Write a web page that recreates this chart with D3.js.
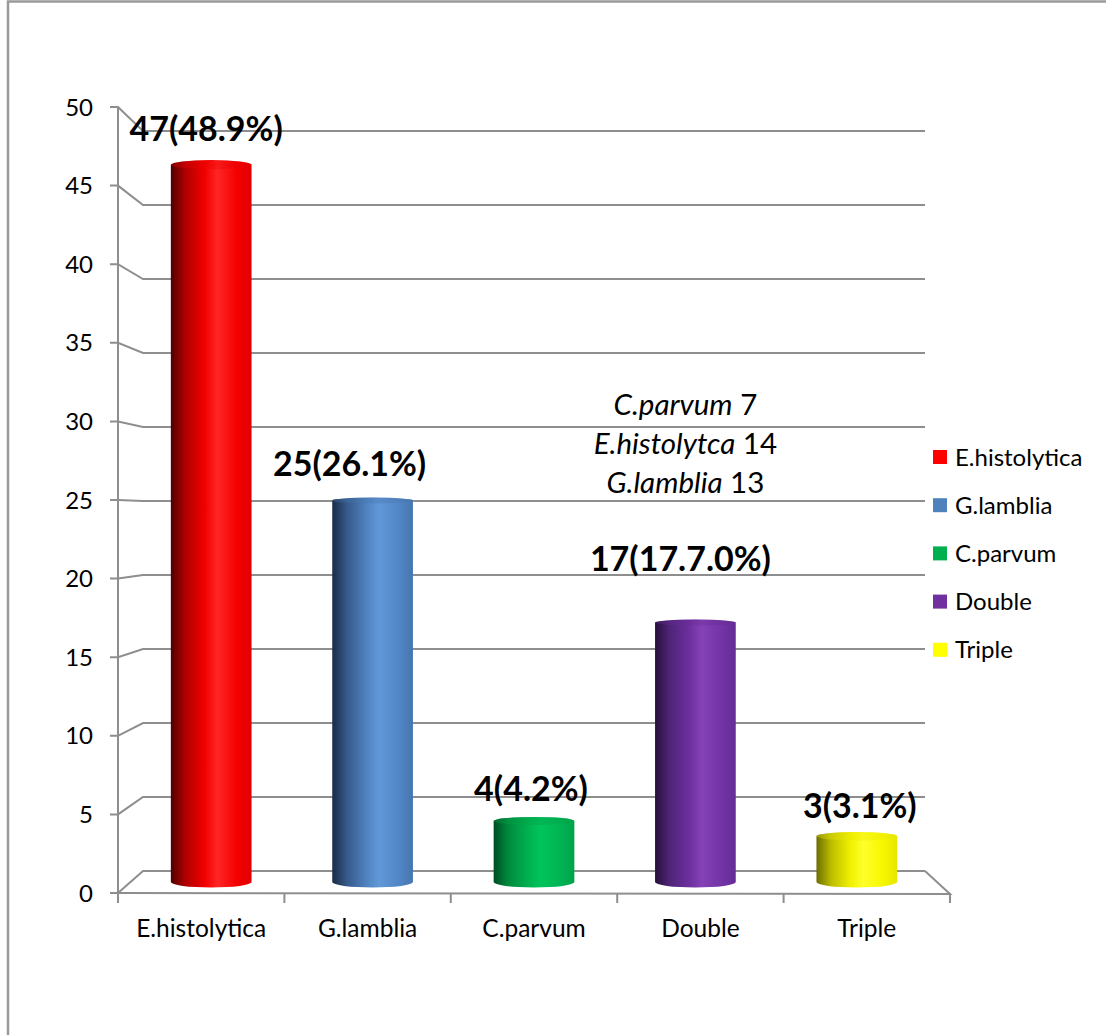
<!DOCTYPE html>
<html>
<head>
<meta charset="utf-8">
<script src="https://cdn.jsdelivr.net/npm/d3@7/dist/d3.min.js"></script>
<style>
  html, body { margin: 0; padding: 0; background: #ffffff; }
  svg { display: block; }
  text { font-family: Lato, "Open Sans", sans-serif; fill: #000; }
</style>
</head>
<body>
<svg id="chart" width="1106" height="1035"></svg>
<script>
// ---- data ----
const categories = ["E.histolytica", "G.lamblia", "C.parvum", "Double", "Triple"];
const counts = [47, 25, 4, 17, 3];
const countLabels = ["47(48.9%)", "25(26.1%)", "4(4.2%)", "17(17.7.0%)", "3(3.1%)"];
const yTickValues = [0, 5, 10, 15, 20, 25, 30, 35, 40, 45, 50];
const doubleNames = ["C.parvum", "E.histolytca", "G.lamblia"];
const doubleCounts = [7, 14, 13];

// ---- styling ----
const palette = {
  "E.histolytica": { base: "#ff0000", stops: ["#4e0000", "#b00000", "#f20000", "#ff2626", "#f40000", "#e20000"] },
  "G.lamblia":     { base: "#4f81bd", stops: ["#1b2c44", "#35598a", "#4f82bf", "#6198d8", "#5287c6", "#4676b0"] },
  "C.parvum":      { base: "#00b050", stops: ["#004d22", "#008a3e", "#00b04f", "#00c45c", "#00b553", "#00a249"] },
  "Double":        { base: "#7030a0", stops: ["#25103a", "#4f2478", "#6c2f9e", "#8442b6", "#7334a6", "#642c94"] },
  "Triple":        { base: "#ffff00", stops: ["#6d6d00", "#bcbc00", "#f0f000", "#ffff2a", "#f7f700", "#e6e600"] }
};
const stopOffsets = ["0%", "18%", "42%", "58%", "82%", "100%"];
const gridColor = "#8e8e8e";

const svg = d3.select("#chart");

// outer frame
svg.append("path")
  .attr("d", "M8,1035 L8,1.5 L1106,1.5")
  .attr("fill", "none").attr("stroke", "#9a9a9a").attr("stroke-width", 2.5);

// ---- perspective scales: front plane and back wall ----
const xFront = d3.scaleBand().domain(categories).range([118, 950]);
const xBack  = d3.scaleBand().domain(categories).range([143, 925]);
const yFront = d3.scaleLinear().domain([0, 50]).range([893, 107]);
const yBack  = d3.scaleLinear().domain([0, 50]).range([871, 131]);
const depth = 0.5; // bars stand halfway between front and back
const lerp = (a, b, t) => a + (b - a) * t;
const yMid = v => lerp(yFront(v), yBack(v), depth);
const xMidCenter = c => lerp(xFront(c) + xFront.bandwidth() / 2, xBack(c) + xBack.bandwidth() / 2, depth);
const barWidth = lerp(xFront.bandwidth(), xBack.bandwidth(), depth) * 0.5;

// gradients for cylinders
const defs = svg.append("defs");
categories.forEach((c, i) => {
  const g = defs.append("linearGradient").attr("id", "cyl" + i)
    .attr("x1", "0%").attr("x2", "100%").attr("y1", "0%").attr("y2", "0%");
  palette[c].stops.forEach((col, k) => g.append("stop").attr("offset", stopOffsets[k]).attr("stop-color", col));
});

// ---- walls: gridlines, axis, floor ----
const grid = svg.append("g").attr("fill", "none").attr("stroke", gridColor).attr("stroke-width", 2);
yTickValues.forEach(v => {
  grid.append("path")
    .attr("d", `M${xFront.range()[0] - 8},${yFront(v)} L${xFront.range()[0]},${yFront(v)} L${xBack.range()[0]},${yBack(v)} L${xBack.range()[1]},${yBack(v)}`);
});
// vertical axis line
grid.append("line")
  .attr("x1", xFront.range()[0]).attr("x2", xFront.range()[0])
  .attr("y1", yFront(50)).attr("y2", yFront(0));
// floor: right edge and front edge
grid.append("path")
  .attr("d", `M${xBack.range()[1]},${yBack(0)} L${xFront.range()[1]},${yFront(0) + 1} L${xFront.range()[0]},${yFront(0)}`);
// category tick marks on the front edge
const bounds = categories.map(c => xFront(c)).concat([xFront.range()[1]]);
bounds.forEach(x => {
  grid.append("line").attr("x1", x).attr("x2", x)
    .attr("y1", yFront(0)).attr("y2", yFront(0) + 10);
});

// y axis labels
svg.append("g").selectAll("text").data(yTickValues).join("text")
  .attr("x", 93).attr("y", d => yFront(d) + 8.5)
  .attr("text-anchor", "end").attr("font-size", 24)
  .text(d => d);

// x axis labels
svg.append("g").selectAll("text").data(categories).join("text")
  .attr("x", c => xFront(c) + xFront.bandwidth() / 2)
  .attr("y", 937)
  .attr("text-anchor", "middle").attr("font-size", 24.5)
  .text(c => c);

// ---- cylinders ----
const bars = svg.append("g");
categories.forEach((c, i) => {
  const cx = xMidCenter(c);
  const rx = barWidth / 2;
  const yTop = yMid(counts[i]);
  const yBot = yMid(0);
  const ryTop = Math.max(3, Math.abs(yBack(counts[i]) - yFront(counts[i])) * 0.22);
  const ryBot = Math.max(3, Math.abs(yBack(0) - yFront(0)) * 0.25);
  const g = bars.append("g");
  // body with rounded bottom
  g.append("path")
    .attr("d", `M${cx - rx},${yTop} L${cx - rx},${yBot} A${rx},${ryBot} 0 0 0 ${cx + rx},${yBot} L${cx + rx},${yTop} Z`)
    .attr("fill", `url(#cyl${i})`);
  // top face
  g.append("ellipse")
    .attr("cx", cx).attr("cy", yTop).attr("rx", rx).attr("ry", ryTop)
    .attr("fill", `url(#cyl${i})`);
  g.append("ellipse")
    .attr("cx", cx).attr("cy", yTop).attr("rx", rx).attr("ry", ryTop)
    .attr("fill", d3.color(palette[c].base).darker(0.25)).attr("opacity", 0.35);
});

// ---- value labels ----
const labelDx = [-5, -23, -3, -15, 3];
const labelLift = [24, 25, 20, 52, 18];
svg.append("g").selectAll("text").data(categories).join("text")
  .attr("x", (c, i) => xMidCenter(c) + labelDx[i])
  .attr("y", (c, i) => yMid(counts[i]) - labelLift[i])
  .attr("text-anchor", "middle").attr("font-size", 34).attr("font-weight", "bold")
  .text((c, i) => countLabels[i]);

// breakdown of double infections, above the Double column
const note = svg.append("g");
doubleNames.forEach((name, i) => {
  const t = note.append("text")
    .attr("x", xMidCenter("Double") - 10)
    .attr("y", 415 + i * 39)
    .attr("text-anchor", "middle").attr("font-size", 29.5);
  t.append("tspan").attr("font-style", "italic").text(name);
  t.append("tspan").text(" " + doubleCounts[i]);
});

// ---- legend ----
const legend = svg.append("g").attr("transform", "translate(933,450)");
categories.forEach((c, i) => {
  legend.append("rect").attr("x", 0).attr("y", i * 48.2).attr("width", 14).attr("height", 14)
    .attr("fill", palette[c].base);
  legend.append("text").attr("x", 22).attr("y", i * 48.2 + 15.5).attr("font-size", 24).text(c);
});
</script>
</body>
</html>
